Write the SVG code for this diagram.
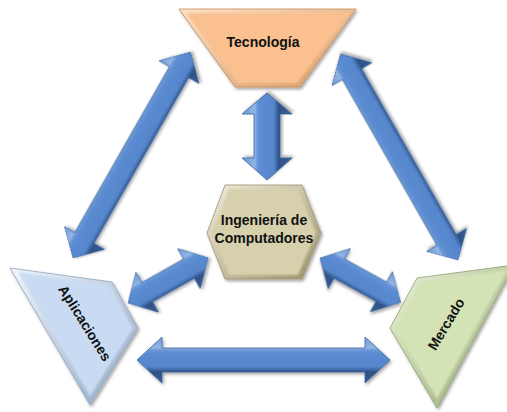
<svg xmlns="http://www.w3.org/2000/svg" width="507" height="412" viewBox="0 0 507 412">
  <defs>
    <style>
      .label { font-family: "Liberation Sans", Arial, sans-serif; font-weight: bold; font-size: 14px; fill: #111; text-anchor: middle; dominant-baseline: central; }
      .arrow { fill: url(#arrowFill); stroke: #3A639C; stroke-width: 0.8; filter: url(#shadow); }
    </style>
    <filter id="shadow" x="-20%" y="-20%" width="140%" height="140%">
      <feDropShadow dx="1.5" dy="2" stdDeviation="1.5" flood-color="#000" flood-opacity="0.35"/>
    </filter>
    <filter id="soft" x="-10%" y="-10%" width="120%" height="120%">
      <feGaussianBlur stdDeviation="1.2"/>
    </filter>
    <!-- arrow shading across the shaft, in each arrow's own frame -->
    <linearGradient id="arrowFill" gradientUnits="userSpaceOnUse" x1="0" y1="-24" x2="0" y2="24">
      <stop offset="0" stop-color="#6C9BDA"/>
      <stop offset="0.25" stop-color="#93B4E4"/>
      <stop offset="0.29" stop-color="#6C99D8"/>
      <stop offset="0.36" stop-color="#5B8BD1"/>
      <stop offset="0.64" stop-color="#5686CC"/>
      <stop offset="0.70" stop-color="#4069A6"/>
      <stop offset="0.75" stop-color="#2F5185"/>
      <stop offset="1" stop-color="#35609C"/>
    </linearGradient>
    <linearGradient id="tecEdge" x1="0" y1="0" x2="1" y2="1">
      <stop offset="0" stop-color="#FDE2C8"/>
      <stop offset="1" stop-color="#D99A62"/>
    </linearGradient>
    <linearGradient id="aplEdge" x1="0" y1="0" x2="1" y2="1">
      <stop offset="0" stop-color="#F2F6FC"/>
      <stop offset="1" stop-color="#8FA6C4"/>
    </linearGradient>
    <linearGradient id="merEdge" x1="0" y1="0" x2="1" y2="1">
      <stop offset="0" stop-color="#EEF4E0"/>
      <stop offset="1" stop-color="#8FA56A"/>
    </linearGradient>
    <linearGradient id="hexEdge" x1="0" y1="0" x2="1" y2="1">
      <stop offset="0" stop-color="#F1EEE0"/>
      <stop offset="1" stop-color="#9A9068"/>
    </linearGradient>
  </defs>

  <!-- connectors: double-headed block arrows -->
  <g id="connectors">
    <!-- Tecnología <-> Aplicaciones -->
    <polygon class="arrow" transform="translate(73,258) rotate(-60.3)"
      points="0,0 23,-23 23,-11 214,-11 214,-23 237,0 214,23 214,11 23,11 23,23"/>
    <!-- Tecnología <-> Mercado -->
    <polygon class="arrow" transform="translate(458,260) rotate(240.3)"
      points="0,0 23,-23 23,-11 214,-11 214,-23 237,0 214,23 214,11 23,11 23,23"/>
    <!-- Tecnología <-> Ingeniería de Computadores -->
    <polygon class="arrow" transform="translate(267,180) rotate(-90)"
      points="0,0 22,-25 22,-13 66,-13 66,-25 87,0 66,25 66,13 22,13 22,25"/>
    <!-- Aplicaciones <-> Ingeniería de Computadores -->
    <polygon class="arrow" transform="translate(128,303) rotate(-29.4)"
      points="0,0 22,-23 22,-11 70,-11 70,-23 92,0 70,23 70,11 22,11 22,23"/>
    <!-- Ingeniería de Computadores <-> Mercado -->
    <polygon class="arrow" transform="translate(320,258) rotate(28.8)"
      points="0,0 22,-23 22,-11 70,-11 70,-23 92,0 70,23 70,11 22,11 22,23"/>
    <!-- Aplicaciones <-> Mercado -->
    <polygon class="arrow" transform="translate(137,360)"
      points="0,0 25,-23 25,-12 228,-12 228,-23 253,0 228,23 228,12 25,12 25,23"/>
  </g>

  <!-- Tecnología -->
  <g id="tecnologia">
    <polygon points="179,9 356,9 300,87 235,87" fill="url(#tecEdge)" stroke="#C58A58" stroke-width="0.8" filter="url(#shadow)"/>
    <polygon points="186,13 349,13 297,83 238,83" fill="#FAC090" filter="url(#soft)"/>
    <text class="label" x="263" y="42">Tecnología</text>
  </g>

  <!-- Aplicaciones -->
  <g id="aplicaciones">
    <polygon points="10,268 112,282 138,328 90,405" fill="url(#aplEdge)" stroke="#8EA4C0" stroke-width="0.8" filter="url(#shadow)"/>
    <polygon points="18,272 109,286 133,328 90,396" fill="#C9DBF2" filter="url(#soft)"/>
    <text class="label" transform="translate(85,323) rotate(58)" x="0" y="0">Aplicaciones</text>
  </g>

  <!-- Mercado -->
  <g id="mercado">
    <polygon points="417,278 514,265 437,408 390,328" fill="url(#merEdge)" stroke="#8EA26A" stroke-width="0.8" filter="url(#shadow)"/>
    <polygon points="420,282 507,270 437,399 395,328" fill="#D4E3B6" filter="url(#soft)"/>
    <text class="label" transform="translate(446,324) rotate(-59)" x="0" y="0">Mercado</text>
  </g>

  <!-- Ingeniería de Computadores -->
  <g id="ingenieria">
    <polygon points="225,185 302,185 321,233 302,279 225,279 207,233" fill="url(#hexEdge)" stroke="#9C936C" stroke-width="0.8" filter="url(#shadow)"/>
    <polygon points="229,189 298,189 316,233 298,275 229,275 212,233" fill="#D6D0AC" filter="url(#soft)"/>
    <text class="label" x="264" y="220">Ingeniería de</text>
    <text class="label" x="264" y="238">Computadores</text>
  </g>
</svg>
